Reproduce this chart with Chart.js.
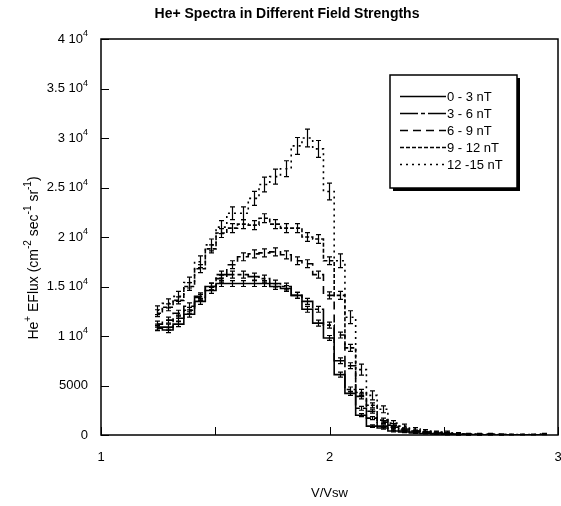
<!DOCTYPE html>
<html>
<head>
<meta charset="utf-8">
<script src="https://cdn.jsdelivr.net/npm/chart.js@4.4.0/dist/chart.umd.min.js"></script>
<style>
body { margin: 0; background: #fff; }
</style>
</head>
<body>
<canvas id="spectra" width="561" height="506"></canvas>
<script>
//--- data
var binCenters = [1.245, 1.292, 1.339, 1.386, 1.433, 1.480, 1.527, 1.574, 1.621, 1.668, 1.715, 1.762, 1.809, 1.856, 1.903, 1.950,
    1.997, 2.044, 2.091, 2.138, 2.185, 2.232, 2.279, 2.326, 2.373, 2.420, 2.467, 2.514, 2.561, 2.608, 2.655, 2.702,
    2.749, 2.796, 2.843, 2.890, 2.937];
var seriesLabels = ['0 - 3 nT', '3 - 6 nT', '6 - 9 nT', '9 - 12 nT', '12 -15 nT'];

var flux0to3 = [10800, 10600, 11200, 12200, 13500, 14600, 15300, 15300, 15300, 15300, 15300, 15000, 14800, 14100, 12700, 11300,
    9800, 6100, 4200, 2000, 900, 700, 400, 300, 200, 150, 100, 50, 50, 0, 0, 0, 0, 0, 0, 0, 0];
var flux3to6 = [10900, 10900, 11800, 12600, 13900, 15000, 16200, 16200, 16200, 16000, 15800, 15300, 15000, 14100, 13500, 12700,
    11100, 7500, 4600, 2700, 1700, 900, 600, 400, 300, 200, 150, 100, 50, 50, 0, 0, 0, 0, 0, 0, 0];
var flux6to9 = [11200, 11600, 12300, 13000, 14000, 15000, 15800, 17200, 18000, 18300, 18400, 18500, 18200, 17600, 17300, 16200,
    14100, 10100, 7000, 3900, 2400, 1300, 800, 500, 400, 300, 200, 150, 100, 50, 50, 0, 0, 0, 0, 0, 0];
var flux9to12 = [12300, 12900, 13600, 15000, 16800, 18800, 20400, 20900, 21300, 21200, 21900, 21300, 20900, 20900, 20000, 19800,
    17600, 14100, 8800, 4300, 3000, 1500, 1000, 600, 400, 300, 250, 200, 100, 100, 50, 50, 50, 0, 0, 0, 0];
var flux12to15 = [12600, 13300, 14000, 15400, 17500, 19200, 21000, 22400, 22400, 23900, 25300, 26100, 26900, 29200, 30000, 28900,
    24600, 17600, 11900, 6600, 4000, 2600, 1200, 900, 600, 400, 300, 300, 150, 100, 100, 100, 50, 50, 50, 50, 100];

var err0to3 = [250, 250, 250, 300, 300, 300, 300, 300, 300, 300, 300, 300, 300, 300, 300, 300,
    250, 250, 200, 150, 120, 100, 80, 60, 50, 40, 40, 30, 30, 0, 0, 0, 0, 0, 0, 0, 0];
var err3to6 = [300, 300, 300, 300, 300, 350, 350, 350, 350, 350, 350, 350, 350, 300, 300, 300,
    300, 300, 250, 200, 150, 120, 100, 80, 60, 50, 50, 40, 30, 30, 0, 0, 0, 0, 0, 0, 0];
var err6to9 = [300, 300, 300, 350, 350, 350, 350, 400, 400, 400, 400, 400, 400, 400, 400, 350,
    350, 300, 300, 250, 200, 150, 120, 100, 80, 60, 50, 50, 40, 30, 30, 0, 0, 0, 0, 0, 0];
var err9to12 = [350, 350, 350, 400, 400, 400, 450, 450, 450, 450, 450, 450, 450, 450, 450, 450,
    400, 400, 350, 300, 250, 200, 150, 120, 100, 80, 80, 60, 50, 50, 40, 40, 40, 0, 0, 0, 0];
var err12to15 = [450, 450, 500, 550, 600, 600, 650, 650, 650, 700, 750, 750, 800, 850, 900, 850,
    850, 700, 650, 550, 450, 350, 250, 200, 150, 150, 100, 100, 80, 60, 60, 60, 40, 40, 40, 40, 60];

// tick labels: [mantissa text, superscript]
var yTickValues = [0, 5000, 10000, 15000, 20000, 25000, 30000, 35000, 40000];
var yTickLabels = [['0', ''], ['5000', ''], ['1 10', '4'], ['1.5 10', '4'], ['2 10', '4'], ['2.5 10', '4'], ['3 10', '4'], ['3.5 10', '4'], ['4 10', '4']];
var xTickMarks = [1, 1.5, 2, 2.5, 3];
var yTitleParts = [['He', 0], ['+', 1], [' EFlux (cm', 0], ['-2', 1], [' sec', 0], ['-1', 1], [' sr', 0], ['-1', 1], [')', 0]];

var fluxSets = [flux0to3, flux3to6, flux6to9, flux9to12, flux12to15];
var errSets = [err0to3, err3to6, err6to9, err9to12, err12to15];
var dashes = [[], [18, 3, 4, 3], [8, 5], [4, 2], [2, 4]];
var FONT = '"Liberation Sans", Arial, sans-serif';

// draws text with raised small parts, left aligned from x
function richText(ctx, parts, x, y, size) {
    parts.forEach(function (p) {
        ctx.font = (p[1] ? Math.round(size * 0.7) : size) + 'px ' + FONT;
        ctx.fillText(p[0], x, p[1] ? y - size * 0.42 : y);
        x += ctx.measureText(p[0]).width;
    });
}
function richWidth(ctx, parts, size) {
    var w = 0;
    parts.forEach(function (p) {
        ctx.font = (p[1] ? Math.round(size * 0.7) : size) + 'px ' + FONT;
        w += ctx.measureText(p[0]).width;
    });
    return w;
}

//--- extra drawing: error bars, inward ticks, frame, labels, legend box, title
var extras = {
    id: 'extras',
    afterDatasetsDraw: function (chart) {
        var ctx = chart.ctx, a = chart.chartArea;
        var xs = chart.scales.x, ys = chart.scales.y;
        ctx.save();
        ctx.strokeStyle = '#000';
        ctx.lineWidth = 1.2;
        ctx.setLineDash([]);
        chart.data.datasets.forEach(function (ds) {
            ds.data.forEach(function (p, i) {
                var e = ds.errs[i];
                if (!e) return;
                var px = Math.round(xs.getPixelForValue(p.x)) + 0.5;
                var t = ys.getPixelForValue(p.y + e);
                var b = ys.getPixelForValue(Math.max(0, p.y - e));
                ctx.beginPath();
                ctx.moveTo(px, t); ctx.lineTo(px, b);
                ctx.moveTo(px - 2.5, t); ctx.lineTo(px + 2.5, t);
                ctx.moveTo(px - 2.5, b); ctx.lineTo(px + 2.5, b);
                ctx.stroke();
            });
        });
        // frame
        ctx.lineWidth = 1.5;
        ctx.strokeRect(a.left, a.top, a.right - a.left, a.bottom - a.top);
        // inward ticks
        ctx.lineWidth = 1;
        ctx.beginPath();
        yTickValues.forEach(function (v) {
            var py = Math.round(ys.getPixelForValue(v)) + 0.5;
            ctx.moveTo(a.left, py); ctx.lineTo(a.left + 8, py);
        });
        xTickMarks.forEach(function (v) {
            var px = Math.round(xs.getPixelForValue(v)) + 0.5;
            ctx.moveTo(px, a.bottom); ctx.lineTo(px, a.bottom - 8);
        });
        ctx.stroke();
        ctx.restore();
    },
    afterDraw: function (chart) {
        var ctx = chart.ctx, a = chart.chartArea, ys = chart.scales.y;
        ctx.save();
        ctx.fillStyle = '#000';
        // y tick labels
        ctx.textBaseline = 'middle';
        ctx.textAlign = 'left';
        yTickValues.forEach(function (v, i) {
            var parts = [[yTickLabels[i][0], 0], [yTickLabels[i][1], 1]];
            var w = richWidth(ctx, parts, 13);
            richText(ctx, parts, a.left - 13 - w, ys.getPixelForValue(v), 13);
        });
        // y axis title
        ctx.save();
        ctx.translate(34, 0);
        ctx.rotate(-Math.PI / 2);
        var tw = richWidth(ctx, yTitleParts, 14);
        richText(ctx, yTitleParts, -258 - tw / 2, 0, 14);
        ctx.restore();
        // title
        ctx.font = 'bold 14px ' + FONT;
        ctx.textAlign = 'center';
        ctx.fillText('He+ Spectra in Different Field Strengths', 287, 14);
        // legend box with shadow
        var bx = 390, by = 75, bw = 127, bh = 113;
        ctx.fillRect(bx + 3, by + 3, bw, bh);
        ctx.fillStyle = '#fff';
        ctx.fillRect(bx, by, bw, bh);
        ctx.strokeStyle = '#000';
        ctx.lineWidth = 1.5;
        ctx.strokeRect(bx, by, bw, bh);
        ctx.font = '13px ' + FONT;
        ctx.textAlign = 'left';
        chart.data.datasets.forEach(function (ds, k) {
            var ry = Math.round(by + 21 + k * 17);
            ctx.setLineDash(ds.borderDash);
            ctx.lineWidth = 1.5;
            ctx.beginPath();
            ctx.moveTo(400, ry + 0.5); ctx.lineTo(446, ry + 0.5);
            ctx.stroke();
            ctx.setLineDash([]);
            ctx.fillStyle = '#000';
            ctx.fillText(ds.label, 447, ry + 1);
        });
        ctx.restore();
    }
};

new Chart(document.getElementById('spectra'), {
    type: 'line',
    data: {
        datasets: seriesLabels.map(function (lab, k) {
            return {
                label: lab,
                data: binCenters.map(function (x, i) { return { x: x, y: fluxSets[k][i] }; }),
                errs: errSets[k],
                borderColor: '#000',
                borderWidth: 1.6,
                borderDash: dashes[k],
                pointRadius: 0,
                stepped: 'middle',
                fill: false
            };
        })
    },
    options: {
        responsive: false,
        animation: false,
        devicePixelRatio: 1,
        layout: { padding: { top: 39, right: 3, left: 0, bottom: 0 } },
        plugins: {
            legend: { display: false },
            title: { display: false },
            tooltip: { enabled: false }
        },
        scales: {
            x: {
                type: 'linear', min: 1, max: 3,
                grid: { display: false, drawTicks: false },
                border: { display: false },
                ticks: { stepSize: 1, padding: 15, color: '#000', font: { family: FONT, size: 13 } },
                title: { display: true, text: 'V/Vsw', color: '#000', font: { family: FONT, size: 13 }, padding: { top: 4, bottom: 5 } },
                afterFit: function (s) { s.height = 71; s.paddingLeft = 0; s.paddingRight = 0; }
            },
            y: {
                min: 0, max: 40000,
                grid: { display: false, drawTicks: false },
                border: { display: false },
                ticks: { stepSize: 5000, display: false },
                afterFit: function (s) { s.width = 101; s.paddingTop = 0; s.paddingBottom = 0; }
            }
        }
    },
    plugins: [extras]
});
</script>
</body>
</html>
